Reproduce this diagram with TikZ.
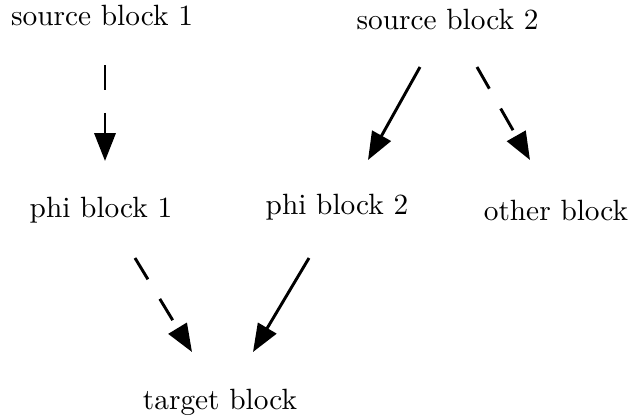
\documentclass[tikz,border=0pt]{standalone}
\usetikzlibrary{arrows.meta}
\begin{document}
\begin{tikzpicture}[x=0.341pt,y=-0.341pt,
  block/.style={inner sep=0pt},
  edge/.style={line width=1pt,-{Triangle[length=9.5pt,width=7.2pt]}},
  dashedge/.style={edge,dash pattern=on 8.5pt off 7.8pt}]
  \useasboundingbox (0,0) rectangle (629,418);
  % blocks
  \node[block] (sb1) at (102,15)    {source block 1};
  \node[block] (sb2) at (447.5,19)  {source block 2};
  \node[block] (pb1) at (101,210)   {phi block 1};
  \node[block] (pb2) at (337,207)   {phi block 2};
  \node[block] (ot)  at (556,210)   {other block};
  \node[block] (tg)  at (220,402)   {target block};
  % dependencies
  \draw[dashedge] ([shift={(3,50)}]sb1.center)     -- ([shift={(4,-49)}]pb1.center);
  \draw[edge]     ([shift={(-27.5,48)}]sb2.center) -- ([shift={(31,-47)}]pb2.center);
  \draw[dashedge] ([shift={(29.5,48)}]sb2.center)  -- ([shift={(-26,-50)}]ot.center);
  \draw[dashedge] ([shift={(34,48)}]pb1.center)    -- ([shift={(-28,-50)}]tg.center);
  \draw[edge]     ([shift={(-28,51)}]pb2.center)   -- ([shift={(33,-50)}]tg.center);
\end{tikzpicture}
\end{document}
